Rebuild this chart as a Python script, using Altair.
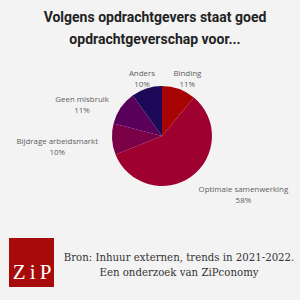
import altair as alt
import pandas as pd

categories = ["Binding", "Optimale samenwerking", "Bijdrage arbeidsmarkt", "Geen misbruik", "Anders"]
values = [11, 58, 10, 11, 10]
colors = ["#A80404", "#9E0030", "#7A0048", "#58005A", "#1C0A58"]

title_lines = ["Volgens opdrachtgevers staat goed", "opdrachtgeverschap voor..."]
footer_lines = ["Bron: Inhuur externen, trends in 2021-2022.", "Een onderzoek van ZiPconomy"]
logo_text = "Z\u2009i\u2009P"

df = pd.DataFrame({"cat": categories, "value": values, "idx": list(range(len(categories)))})
df["label"] = [c + "\n" + str(v) + "%" for c, v in zip(categories, values)]

base = alt.Chart(df).encode(
    theta=alt.Theta("value:Q", stack=True),
    order=alt.Order("idx:Q"),
)

pie = base.mark_arc(outerRadius=50, stroke=None).encode(
    color=alt.Color("cat:N", scale=alt.Scale(domain=categories, range=colors), legend=None)
)

# label placement per category: (radius, dx, dy)
label_place = {
    "Binding": (66, 3, 0),
    "Optimale samenwerking": (67, 42, 0),
    "Bijdrage arbeidsmarkt": (105, 0, -1),
    "Geen misbruik": (64, -27, 0),
    "Anders": (65, 0, 0),
}
labels = []
for cat, (r, dx, dy) in label_place.items():
    labels.append(
        base.mark_text(radius=r, dx=dx, dy=dy, font="Open Sans", fontSize=7.9,
                       color="#5e5e5e", lineBreak="\n", align="center", baseline="middle",
                       lineHeight=11).encode(
            text=alt.condition(alt.datum.cat == cat, "label:N", alt.value(""))
        )
    )

# Plot area origin is at (24, 0) of the page
OX = 24
ann = alt.Chart(pd.DataFrame({"t": [0]}))
title_marks = [
    ann.mark_text(font="Roboto", fontWeight="bold", fontSize=14, color="#222222",
                  align="center", baseline="middle").encode(
        x=alt.value(155 - OX), y=alt.value(y), text=alt.value(t))
    for t, y in zip(title_lines, [18, 40])
]
footer_marks = [
    ann.mark_text(font="DejaVu Serif", fontSize=10.2, color="#333333",
                  align="center", baseline="middle").encode(
        x=alt.value(179 - OX), y=alt.value(y), text=alt.value(t))
    for t, y in zip(footer_lines, [258, 273])
]
logo_box = ann.mark_rect(color="#A60A0A").encode(
    x=alt.value(9 - OX), x2=alt.value(54 - OX), y=alt.value(238), y2=alt.value(287))
logo_txt = ann.mark_text(font="Liberation Serif", fontSize=21, color="white",
                         align="center", baseline="alphabetic").encode(
    x=alt.value(32 - OX), y=alt.value(279), text=alt.value(logo_text))

chart = alt.layer(pie, *labels, *title_marks, *footer_marks, logo_box, logo_txt).properties(
    width=276, height=272,
    padding={"left": OX, "top": 0, "right": 0, "bottom": 28},
    autosize=alt.AutoSizeParams(type="none"),
    background="#F3F3F3",
).configure_view(stroke=None)

chart.save("out.html", embed_options={"renderer": "svg", "actions": False})
